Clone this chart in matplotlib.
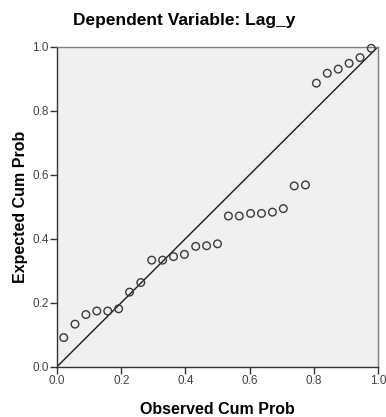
import numpy as np
import matplotlib
matplotlib.use("Agg")
import matplotlib.pyplot as plt

plt.rcParams["font.family"] = ["Liberation Sans", "DejaVu Sans"]

# observed cumulative probability (Blom positions, n = 29)
observed = [
    0.021, 0.056, 0.090, 0.124, 0.158, 0.192, 0.226, 0.261, 0.295, 0.329,
    0.363, 0.397, 0.432, 0.466, 0.500, 0.534, 0.568, 0.603, 0.637, 0.671,
    0.705, 0.739, 0.774, 0.808, 0.842, 0.876, 0.910, 0.944, 0.979,
]
expected = [
    0.091, 0.133, 0.163, 0.174, 0.174, 0.181, 0.233, 0.263, 0.333, 0.333,
    0.344, 0.351, 0.376, 0.378, 0.384, 0.471, 0.471, 0.479, 0.479, 0.483,
    0.494, 0.565, 0.568, 0.886, 0.917, 0.930, 0.948, 0.966, 0.995,
]
ticks = [0.0, 0.2, 0.4, 0.6, 0.8, 1.0]
tick_labels = ["0.0", "0.2", "0.4", "0.6", "0.8", "1.0"]

fig = plt.figure(figsize=(3.86, 4.17), dpi=100)
ax = fig.add_axes([0.1477, 0.1206, 0.8316, 0.7674])
ax.set_facecolor("#f0f0f0")

ax.plot([0, 1], [0, 1], color="#1a1a1a", lw=1.0, zorder=2)
ax.scatter(observed, expected, s=30, facecolors="none", edgecolors="#3a3a3a",
           linewidths=1.0, zorder=3, clip_on=False)

ax.set_xlim(0, 1)
ax.set_ylim(0, 1)
ax.set_xticks(ticks)
ax.set_xticklabels(tick_labels)
ax.set_yticks(ticks)
ax.set_yticklabels(tick_labels)
ax.tick_params(direction="out", length=5, width=1, color="#333333",
               labelsize=8.5, labelcolor="#444444", pad=1)

for side in ["left", "bottom"]:
    ax.spines[side].set_color("#333333")
    ax.spines[side].set_linewidth(1.0)
for side in ["top", "right"]:
    ax.spines[side].set_color("#808080")
    ax.spines[side].set_linewidth(1.0)

ax.set_xlabel("Observed Cum Prob", fontsize=11.5, fontweight="bold", labelpad=11)
ax.set_ylabel("Expected Cum Prob", fontsize=11.5, fontweight="bold", labelpad=3)
fig.text(0.478, 0.952, "Dependent Variable: Lag_y", ha="center", va="center",
         fontsize=12.5, fontweight="bold")

fig.savefig("out.png", dpi=100)
